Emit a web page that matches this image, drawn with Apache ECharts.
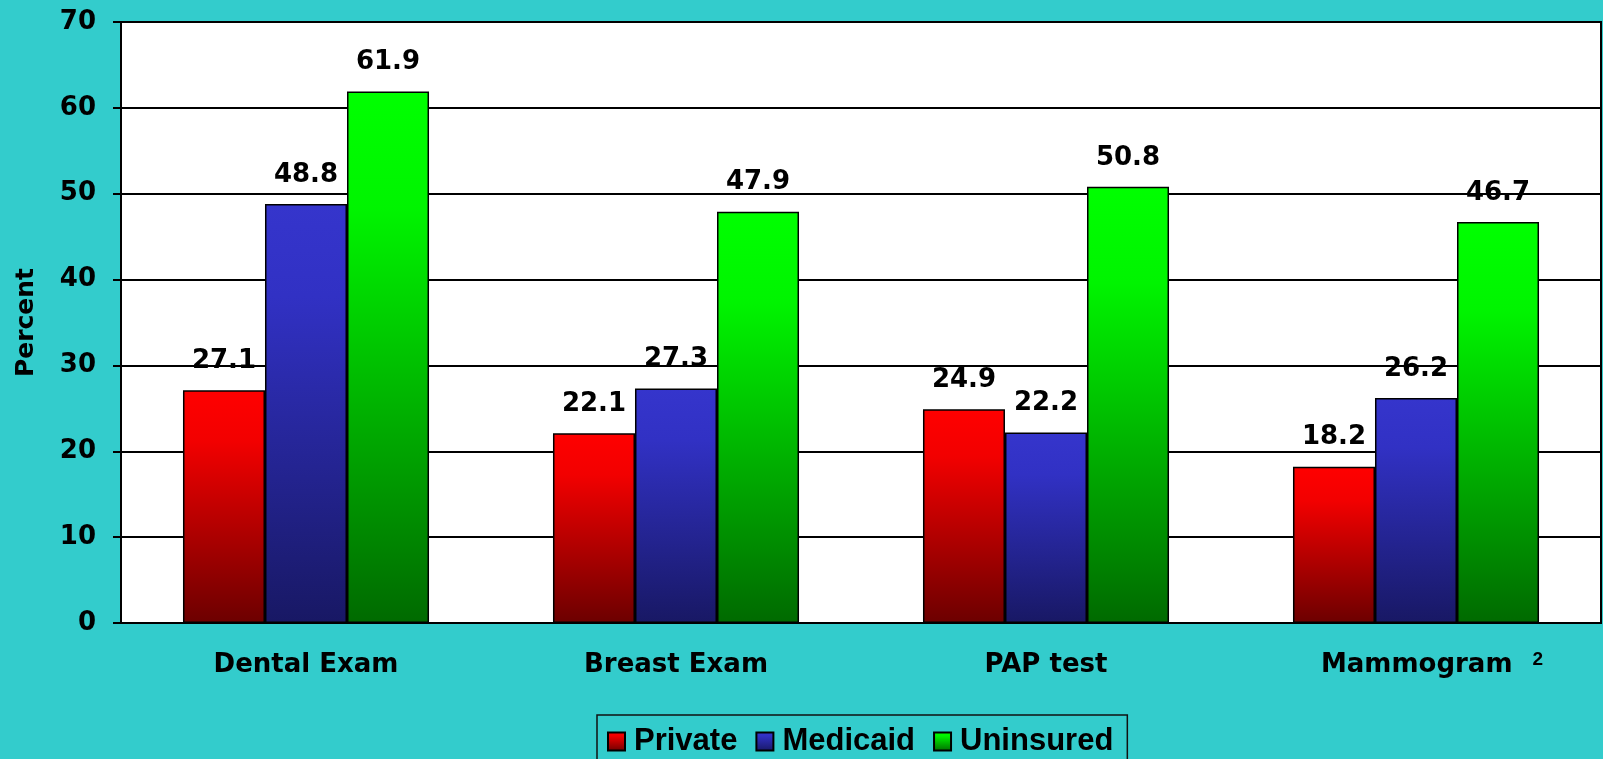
<!DOCTYPE html>
<html>
<head>
<meta charset="utf-8">
<title>Percent by insurance type</title>
<script src="https://cdn.jsdelivr.net/npm/echarts@6/dist/echarts.min.js"></script>
<style>
  html, body { margin: 0; padding: 0; background: #33cccc; }
  #chart { width: 1603px; height: 759px; }
</style>
</head>
<body>
<div id="chart"></div>
<script>
  // categories and footnote marks
  const categories = ['Dental Exam', 'Breast Exam', 'PAP test', 'Mammogram']
  const footnotes = ['', '', '', '2']

  // series values (percent)
  const privateVals = [27.1, 22.1, 24.9, 18.2]
  const medicaidVals = [48.8, 27.3, 22.2, 26.2]
  const uninsuredVals = [61.9, 47.9, 50.8, 46.7]

  // y axis ticks
  const yTicks = [0, 10, 20, 30, 40, 50, 60, 70]

  const FONT = 'DejaVu Sans'

  // vertical gradient per bar, bright on top and dark at the bottom
  const grad = (top, mid, bottom) => new echarts.graphic.LinearGradient(0, 0, 0, 1, [
    { offset: 0, color: top },
    { offset: 0.22, color: mid },
    { offset: 1, color: bottom }
  ])

  const makeSeries = (name, data, colors) => ({
    name,
    type: 'bar',
    data,
    barGap: '0%',
    barCategoryGap: '33.5%',
    itemStyle: {
      color: grad(colors[0], colors[1], colors[2]),
      borderColor: '#000',
      borderWidth: 1.5
    },
    label: {
      show: true,
      position: 'top',
      distance: 16,
      fontFamily: FONT,
      fontWeight: 'bold',
      fontSize: 26,
      color: '#000',
      formatter: p => p.value.toFixed(1)
    }
  })

  const chart = echarts.init(document.getElementById('chart'))
  chart.setOption({
    backgroundColor: '#33cccc',
    animation: false,
    grid: {
      left: 121,
      right: 2,
      top: 22,
      bottom: 136,
      show: true,
      backgroundColor: '#ffffff',
      borderColor: '#000',
      borderWidth: 2
    },
    legend: {
      left: 597,
      top: 715,
      icon: 'rect',
      itemWidth: 17,
      itemHeight: 18,
      itemGap: 18,
      padding: [11, 14, 11, 10],
      borderColor: '#111',
      borderWidth: 1.5,
      backgroundColor: '#33cccc',
      textStyle: {
        fontFamily: 'Liberation Sans',
        fontWeight: 'bold',
        fontSize: 31,
        color: '#000',
        padding: [0, 0, 0, 4]
      },
      data: ['Private', 'Medicaid', 'Uninsured']
    },
    xAxis: {
      type: 'category',
      data: categories,
      axisLine: { lineStyle: { color: '#000', width: 2 } },
      axisTick: { show: false },
      axisLabel: {
        interval: 0,
        margin: 27,
        color: '#000',
        fontFamily: FONT,
        fontWeight: 'bold',
        fontSize: 26,
        formatter: (v, i) => footnotes[i]
          ? '{m|' + v + '}{s|' + footnotes[i] + '}'
          : '{c|' + v + '}',
        rich: {
          c: { fontFamily: FONT, fontWeight: 'bold', fontSize: 26, lineHeight: 30, color: '#000' },
          m: { fontFamily: FONT, fontWeight: 'bold', fontSize: 26, lineHeight: 30, color: '#000', padding: [0, 0, 0, 32] },
          s: { fontFamily: 'Liberation Sans', fontSize: 19, lineHeight: 19, color: '#000', padding: [0, 0, 11, 20] }
        }
      }
    },
    yAxis: {
      type: 'value',
      min: yTicks[0],
      max: yTicks[yTicks.length - 1],
      interval: yTicks[1] - yTicks[0],
      name: 'Percent',
      nameLocation: 'middle',
      nameGap: 82,
      nameTextStyle: {
        fontFamily: FONT,
        fontWeight: 'bold',
        fontSize: 25,
        color: '#000'
      },
      axisLine: { show: true, lineStyle: { color: '#000', width: 2 } },
      axisTick: { show: true, length: 8, lineStyle: { color: '#000', width: 2 } },
      axisLabel: {
        margin: 25,
        color: '#000',
        fontFamily: FONT,
        fontWeight: 'bold',
        fontSize: 26
      },
      splitLine: { lineStyle: { color: '#000', width: 2 } }
    },
    series: [
      makeSeries('Private', privateVals, ['#ff0000', '#f20000', '#6c0000']),
      makeSeries('Medicaid', medicaidVals, ['#3535cc', '#3131c4', '#181864']),
      makeSeries('Uninsured', uninsuredVals, ['#00ff00', '#00f400', '#006a00'])
    ]
  })

  window.addEventListener('resize', () => chart.resize())
</script>
</body>
</html>
